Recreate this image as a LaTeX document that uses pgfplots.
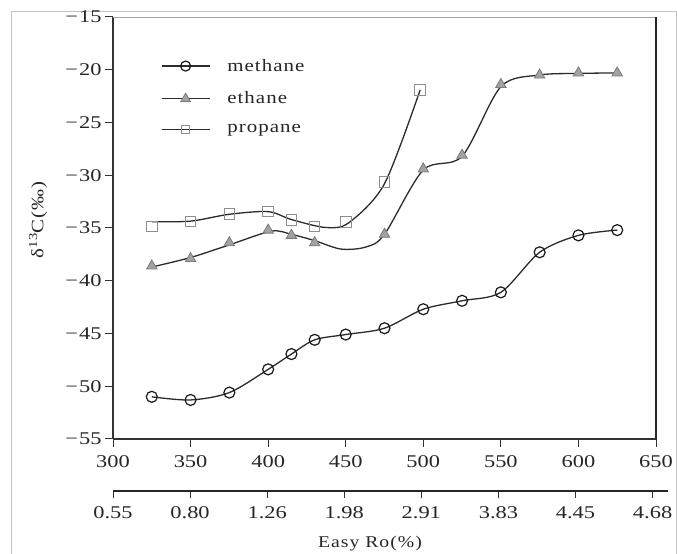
\documentclass[border=0pt]{standalone}
\usepackage{fontspec}
\setmainfont[FakeStretch=1.25]{Liberation Serif}
\newfontfamily\legfont[FakeStretch=1.2,LetterSpace=6]{Liberation Serif}
\usepackage{pgfplots}
\pgfplotsset{compat=1.18}
\definecolor{curve}{HTML}{2B2B2B}
\definecolor{trifill}{HTML}{A2A2A2}
\definecolor{triedge}{HTML}{7A7A7A}
\definecolor{sqedge}{HTML}{8E8E8E}
\definecolor{frame}{HTML}{C4C4C4}

\begin{document}
\begin{tikzpicture}[x=1bp,y=1bp]
\useasboundingbox (0,0) rectangle (677,554);
\draw[frame, line width=1bp] (11,-5) -- (11,542) -- (676,542) -- (676,-5);

% main axis
\begin{axis}[
    at={(113bp,115bp)}, anchor=south west,
    scale only axis, width=543bp, height=422bp,
    xmin=300, xmax=650, ymin=-55, ymax=-15,
    xtick={300,350,...,650},
    ytick={-55,-50,...,-15},
    yticklabels={−\kern1bp 55,−\kern1bp 50,−\kern1bp 45,−\kern1bp 40,−\kern1bp 35,−\kern1bp 30,−\kern1bp 25,−\kern1bp 20,−\kern1bp 15},
    tick align=outside, tick pos=left,
    major tick length=8bp,
    every tick/.style={black!80, line width=1bp},
    tick label style={font=\fontsize{18}{18}\selectfont, text=black!85},
    xticklabel style={yshift=-5bp},
    /pgf/number format/assume math mode=true,
    axis line style={draw=none},
    clip=false,
    legend style={at={(rel axis cs:0.088,0.905)}, anchor=north west,
                  draw=none, fill=none, inner sep=0pt,
                  font=\legfont\fontsize{17.5}{17.5}\selectfont,
                  row sep=15bp, column sep=15bp,
                  nodes={inner sep=2bp, text=black!85}},
    legend cell align={left},
    legend image code/.code={
        \draw[mark repeat=2, mark phase=2, #1]
            plot coordinates {(0bp,0bp) (24bp,0bp) (48bp,0bp)};},
]
\draw[black!80, line width=1.6bp] (rel axis cs:0,0) -- (rel axis cs:0,1);
\draw[black!80, line width=1.6bp] (rel axis cs:0,0) -- (rel axis cs:1,0);
\draw[gray!70, line width=0.8bp] (rel axis cs:0,1) -- (rel axis cs:1,1);
\draw[black!85, line width=1.6bp] (rel axis cs:1,0) -- (rel axis cs:1,1);

% legend entries
\addlegendimage{curve, line width=1.3bp, mark=o, mark size=5bp, mark options={black!90, line width=1.2bp}}
\addlegendentry{methane}
\addlegendimage{curve, line width=1.3bp, mark=triangle*, mark size=5.5bp, mark options={draw=triedge, fill=trifill, line width=0.8bp}}
\addlegendentry{ethane}
\addlegendimage{curve, line width=1.3bp, mark=square, mark size=4.3bp, mark options={sqedge, line width=0.9bp}}
\addlegendentry{propane}

% fitted curves
\addplot[curve, line width=1.3bp, smooth, forget plot] coordinates {
  (325,-51.0) (350,-51.3) (375,-50.6) (400,-48.4) (415,-46.95) (430,-45.6)
  (450,-45.1) (475,-44.5) (500,-42.7) (525,-41.9) (550,-41.1) (575,-37.3)
  (600,-35.7) (625,-35.2)};
\addplot[curve, line width=1.3bp, smooth, forget plot] coordinates {
  (325,-38.7) (350,-37.8) (375,-36.6) (402,-35.3) (415,-35.6) (430,-36.2)
  (447,-37.0) (463,-36.8) (475,-35.6) (500,-29.5) (525,-28.2) (550,-21.6)
  (575,-20.5) (600,-20.35) (625,-20.3)};
\addplot[curve, line width=1.3bp, smooth, forget plot] coordinates {
  (325,-34.4) (350,-34.35) (375,-33.7) (400,-33.45) (415,-34.2) (437,-34.95)
  (452,-34.5) (475,-30.8) (498,-21.9)};

% measured points
\addplot[only marks, mark=o, mark size=5.5bp, mark options={black!90, line width=1.2bp}, forget plot] coordinates {
  (325,-51.0) (350,-51.3) (375,-50.6) (400,-48.4) (415,-46.95) (430,-45.6)
  (450,-45.1) (475,-44.5) (500,-42.7) (525,-41.9) (550,-41.1) (575,-37.3)
  (600,-35.7) (625,-35.2)};
\addplot[only marks, mark=triangle*, mark size=6bp, mark options={draw=triedge, fill=trifill, line width=0.8bp}, forget plot] coordinates {
  (325,-38.6) (350,-37.9) (375,-36.4) (400,-35.2) (415,-35.7) (430,-36.4)
  (475,-35.6) (500,-29.4) (525,-28.1) (550,-21.4) (575,-20.5) (600,-20.3)
  (625,-20.3)};
\addplot[only marks, mark=square, mark size=5.3bp, mark options={sqedge, line width=1bp}, forget plot] coordinates {
  (325,-34.85) (350,-34.4) (375,-33.65) (400,-33.45) (415,-34.25) (430,-34.85)
  (450,-34.45) (475,-30.65) (498,-21.9)};
\end{axis}

% Easy Ro scale
\begin{axis}[
    at={(113bp,63bp)}, anchor=south west,
    scale only axis, width=555bp, height=10bp,
    xmin=300, xmax=660, ymin=0, ymax=1,
    axis x line*=bottom, hide y axis,
    axis line style={black!85, line width=1.6bp},
    xtick={300,350,...,650},
    xticklabels={0.55,0.80,1.26,1.98,2.91,3.83,4.45,4.68},
    tick align=outside, major tick length=7bp,
    every tick/.style={black!80, line width=1bp},
    tick label style={font=\fontsize{18}{18}\selectfont, text=black!85, yshift=-5bp},
]
\end{axis}

\node[font=\legfont\fontsize{16.5}{16.5}\selectfont, text=black!85] at (370,10) {Easy Ro(\%)};
\node[rotate=90, font=\legfont\fontsize{17.5}{17.5}\selectfont, text=black!85] at (38,334) {δ\textsuperscript{13}C(‰)};
\end{tikzpicture}
\end{document}
